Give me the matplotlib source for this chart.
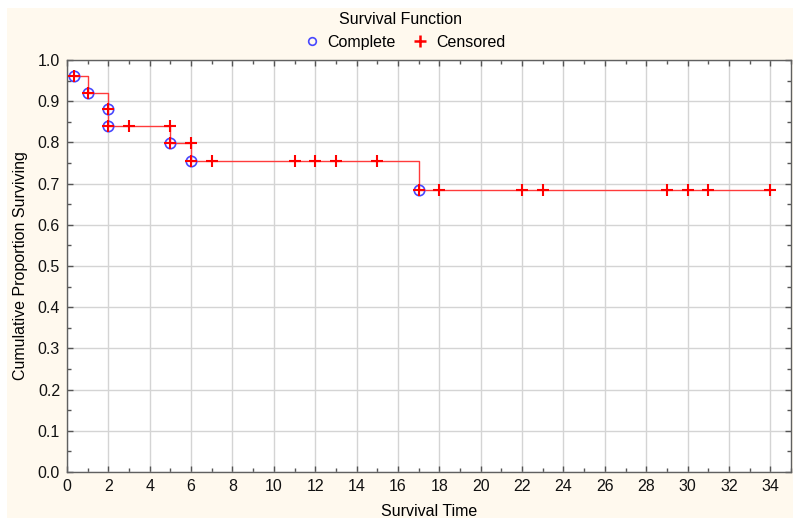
import matplotlib
matplotlib.use("Agg")
import matplotlib.pyplot as plt
from matplotlib.ticker import MultipleLocator
from matplotlib.lines import Line2D

plt.rcParams['font.family'] = ['Liberation Sans', 'DejaVu Sans']

# Kaplan-Meier estimate: event times and survival after each event
event_times = [0.33, 1, 2, 2, 5, 6, 17]
event_surv = [0.96, 0.92, 0.88, 0.84, 0.798, 0.754, 0.685]

# Censored observations: time and survival level at that time
cens_times = [3, 5, 6, 7, 11, 12, 13, 15, 18, 22, 23, 29, 30, 31, 34]
cens_surv = [0.84, 0.84, 0.798, 0.754, 0.754, 0.754, 0.754, 0.754,
             0.685, 0.685, 0.685, 0.685, 0.685, 0.685, 0.685]

x_ticks = list(range(0, 35, 2))
y_ticks = [i / 10 for i in range(11)]

bg = '#fff9ee'
line_col = '#ff3b3b'

fig = plt.figure(figsize=(7.93, 5.18), dpi=100)
fig.patch.set_facecolor('white')
fig.patches.append(plt.Rectangle((7 / 793, 0), 1, 1 - 8 / 518,
                                 transform=fig.transFigure, facecolor=bg,
                                 edgecolor='none', zorder=-10))

ax = fig.add_axes([67 / 793, 1 - 472 / 518, (791 - 67) / 793, (472 - 60) / 518])
ax.set_facecolor('white')

# step curve built from all observation points in time order
pts = sorted(list(zip(event_times, event_surv)) + list(zip(cens_times, cens_surv)),
             key=lambda p: (p[0], -p[1]))
sx = [p[0] for p in pts]
sy = [p[1] for p in pts]
ax.step(sx, sy, where='post', color=line_col, lw=1.0, zorder=3)

ax.plot(event_times, event_surv, linestyle='none', marker='o', ms=7.5,
        mfc='none', mec='#4848ff', mew=1.2, zorder=4)
ax.plot(event_times, event_surv, linestyle='none', marker='+', ms=8,
        mec='#ff0000', mew=1.5, zorder=5)
ax.plot(cens_times, cens_surv, linestyle='none', marker='+', ms=9,
        mec='#ff0000', mew=1.5, zorder=5)

ax.set_xlim(0, 35)
ax.set_ylim(0, 1.0)
ax.set_xticks(x_ticks)
ax.set_yticks(y_ticks)
ax.set_yticklabels([f"{v:.1f}" for v in y_ticks])
ax.xaxis.set_minor_locator(MultipleLocator(1))
ax.yaxis.set_minor_locator(MultipleLocator(0.05))
ax.grid(True, which='major', color='#d4d4d4', lw=1.0)
ax.set_axisbelow(True)
ax.tick_params(which='both', direction='in', top=True, right=True,
               colors='#555555', labelcolor='#111111', labelsize=11.5)
ax.tick_params(which='major', length=4, width=1, pad=5)
ax.tick_params(which='minor', length=3, width=1)
for s in ax.spines.values():
    s.set_color('#606060')
    s.set_linewidth(1.0)

ax.set_xlabel('Survival Time', fontsize=11.5, labelpad=7)
ax.set_ylabel('Cumulative Proportion Surviving', fontsize=11.5, labelpad=7)

fig.text(0.505, 1 - 20 / 518, 'Survival Function', ha='center', va='center',
         fontsize=11.5)
handles = [Line2D([], [], linestyle='none', marker='o', ms=5.5, mfc='none',
                  mec='#4848ff', mew=1.2),
           Line2D([], [], linestyle='none', marker='+', ms=8, mec='#ff0000',
                  mew=1.8)]
fig.legend(handles, ['Complete', 'Censored'], loc='center',
           bbox_to_anchor=(0.51, 1 - 42 / 518), ncol=2, frameon=False,
           fontsize=11.5, handlelength=1.0, handletextpad=0.5,
           columnspacing=1.0, borderpad=0.1)

fig.savefig('out.png', dpi=100, facecolor=fig.get_facecolor())
